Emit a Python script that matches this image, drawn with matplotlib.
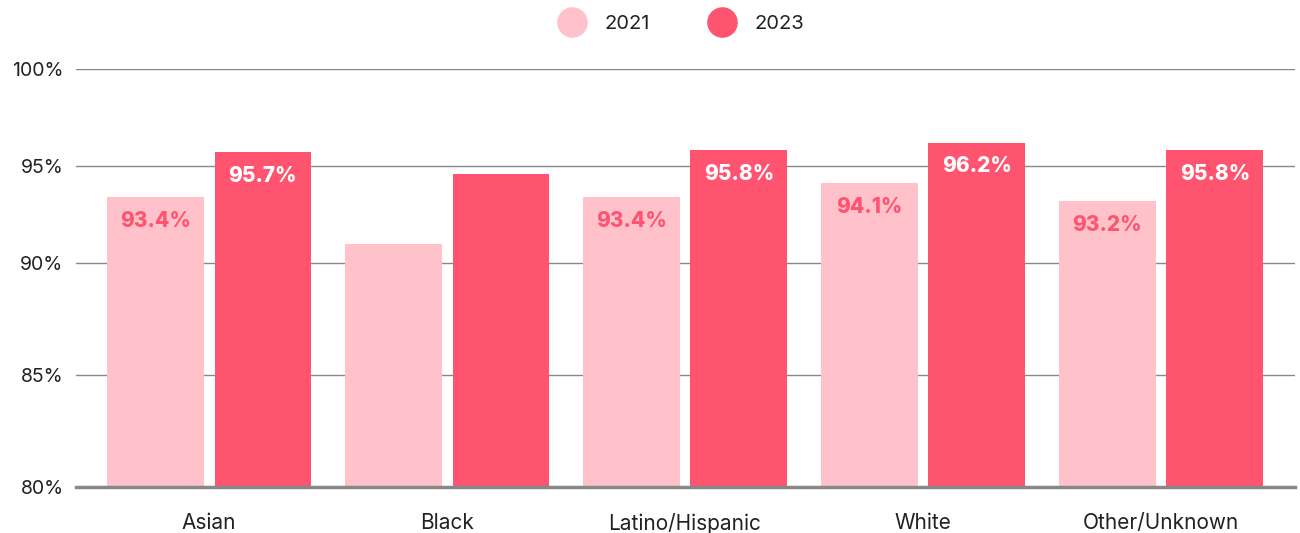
import numpy as np
import matplotlib
matplotlib.use("Agg")
from matplotlib import pyplot as plt
from matplotlib.lines import Line2D

plt.rcParams['font.family'] = ['Inter', 'DejaVu Sans']

categories = ['Asian', 'Black', 'Latino/Hispanic', 'White', 'Other/Unknown']
years = ['2021', '2023']
values_2021 = [93.4, 91.0, 93.4, 94.1, 93.2]
values_2023 = [95.7, 94.6, 95.8, 96.2, 95.8]
labels_2021 = ['93.4%', '', '93.4%', '94.1%', '93.2%']
labels_2023 = ['95.7%', '', '95.8%', '96.2%', '95.8%']
y_ticks = [80, 85, 90, 95, 100]

LIGHT = '#ffc2cb'
DARK = '#ff546f'

# the source axis is not evenly spaced: lower steps are taller than upper ones
tick_pos = [0, 112, 224, 321, 418]


def forward(v):
    return np.interp(v, y_ticks, tick_pos)


def inverse(p):
    return np.interp(p, tick_pos, y_ticks)


fig = plt.figure(figsize=(13, 5.33), dpi=100)
ax = fig.add_axes([76 / 1300, 1 - 487 / 533, (1295 - 76) / 1300, 418 / 533])
ax.set_yscale('function', functions=(forward, inverse))

x = np.arange(len(categories))
width = 0.406
off = 0.226
bars_a = ax.bar(x - off, np.array(values_2021) - 80, width, bottom=80, color=LIGHT, zorder=2)
bars_b = ax.bar(x + off, np.array(values_2023) - 80, width, bottom=80, color=DARK, zorder=2)

for rect, lab in zip(bars_a, labels_2021):
    ax.annotate(lab, (rect.get_x() + rect.get_width() / 2, rect.get_y() + rect.get_height()),
                xytext=(0, -17), textcoords='offset points', ha='center', va='center',
                fontsize=15, fontweight='heavy', color=DARK, zorder=3)
for rect, lab in zip(bars_b, labels_2023):
    ax.annotate(lab, (rect.get_x() + rect.get_width() / 2, rect.get_y() + rect.get_height()),
                xytext=(0, -17), textcoords='offset points', ha='center', va='center',
                fontsize=15, fontweight='heavy', color='white', zorder=3)

ax.set_ylim(80, 100)
ax.set_xlim(-0.559, 4.563)
ax.set_yticks(y_ticks)
ax.set_yticklabels([f'{t}%' for t in y_ticks])
ax.set_xticks(x)
ax.set_xticklabels(categories)
ax.yaxis.grid(True, color='#888888', linewidth=1, zorder=0)
ax.tick_params(axis='y', length=0, pad=9, labelsize=14, labelcolor='#222222')
ax.tick_params(axis='x', length=0, pad=19, labelsize=15, labelcolor='#222222')
for s in ['top', 'right', 'left']:
    ax.spines[s].set_visible(False)
ax.spines['bottom'].set_color('#888888')
ax.spines['bottom'].set_linewidth(2.5)
ax.spines['bottom'].set_zorder(4)

handles = [Line2D([], [], marker='o', linestyle='none', markersize=21,
                  markerfacecolor=c, markeredgecolor=c) for c in (LIGHT, DARK)]
fig.legend(handles, years, loc='center', bbox_to_anchor=(678 / 1300, 1 - 24 / 533),
           ncol=2, frameon=False, fontsize=14.5, handletextpad=0.6, columnspacing=2.6,
           labelcolor='#222222')

fig.savefig('out.png', dpi=100)
